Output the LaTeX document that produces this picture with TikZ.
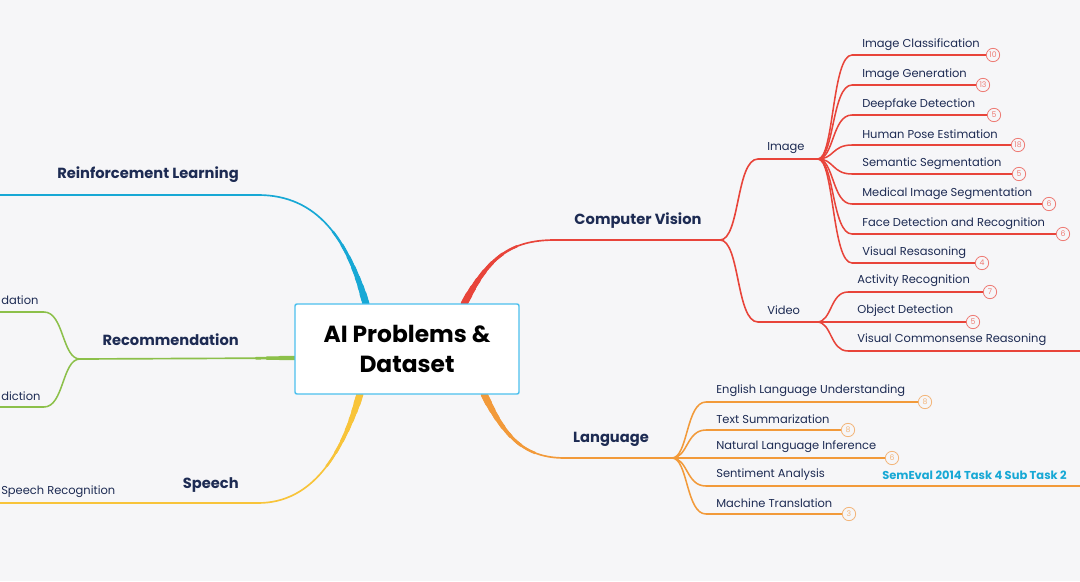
\documentclass[tikz,border=0pt]{standalone}
\usepackage{fontspec}
\setmainfont{Poppins}
\definecolor{bg}{HTML}{F6F6F8}
\definecolor{navy}{HTML}{1D2B53}
\definecolor{cyanb}{HTML}{17A8D5}
\definecolor{greenb}{HTML}{8CC04A}
\definecolor{yellowb}{HTML}{F8C43A}
\definecolor{redb}{HTML}{E8443A}
\definecolor{orangeb}{HTML}{F29A3A}
\definecolor{redl}{HTML}{EE7B74}
\definecolor{orangel}{HTML}{F3B57A}
\definecolor{boxblue}{HTML}{4CC0EE}
\newcommand\taperpath[3]{%
  \foreach \w/\l in #3{%
    \draw[#1,line width=\w,line cap=round,dash pattern=on \l off 3000pt] #2;}%
  \draw[#1,line width=1.25pt] #2;}
\newcommand\bigtaper{5.2pt/8pt,4.6pt/14pt,4pt/21pt,3.4pt/29pt,2.8pt/38pt,2.3pt/48pt,1.8pt/60pt}
\newcommand\smalltaper{3.2pt/12pt,2.6pt/22pt,2pt/30pt}
\tikzset{
  childtext/.style={font=\fontsize{8.6}{10}\selectfont, text=navy, anchor=west, inner sep=0pt},
  branchtext/.style={font=\bfseries\fontsize{11}{13}\selectfont, text=navy, inner sep=0pt},
  badge/.style={circle, draw=#1, line width=0.6pt, text=#1, font=\fontsize{5.8}{6}\selectfont,
    minimum size=10pt, inner sep=0pt, fill=bg},
  childline/.style={draw=#1, line width=1.15pt},
  centerbox/.style={draw=boxblue, line width=1.1pt, fill=white, rounded corners=1.5pt,
    minimum width=168pt, minimum height=67.5pt, align=center, text=black,
    font=\bfseries\fontsize{17.5}{23}\selectfont}
}
\begin{document}
\begin{tikzpicture}[x=0.75pt,y=-0.75pt]
\useasboundingbox (0,0) rectangle (1080,581);
\fill[bg] (0,0) rectangle (1080,581);
\begin{scope}
\clip (0,0) rectangle (1080,581);

% coordinates
\coordinate (rlS) at (366,304);
\coordinate (rlE) at (0,195);
\coordinate (recS) at (296,358);
\coordinate (recH) at (80,359);
\coordinate (recA) at (0,312);
\coordinate (recB) at (0,407);
\coordinate (spS) at (360,394);
\coordinate (spE) at (0,503);
\coordinate (cvS) at (464,304);
\coordinate (cvH) at (720,240);
\coordinate (imgH) at (818,159);
\coordinate (vidH) at (817,322);
\coordinate (lgS) at (484,394);
\coordinate (lgH) at (672,458);
\coordinate (vcrE) at (1080,351);
\coordinate (saE) at (1080,486);

% main branches
\taperpath{cyanb}{(rlS) .. controls (348,240) and (318,195) .. (258,195) -- (rlE)}{\bigtaper}
\taperpath{greenb}{(recS) -- (recH)}{\smalltaper}
\taperpath{yellowb}{(spS) .. controls (342,455) and (312,503) .. (258,503) -- (spE)}{\bigtaper}
\taperpath{redb}{(cvS) .. controls (488,258) and (510,240) .. (555,240) -- (cvH)}{\bigtaper}
\taperpath{orangeb}{(lgS) .. controls (505,438) and (525,458) .. (565,458) -- (lgH)}{\bigtaper}

% recommendation children
\draw[childline=greenb] (recH) .. controls (62,359) and (64,312) .. (44,312) -- (recA);
\draw[childline=greenb] (recH) .. controls (62,359) and (64,407) .. (44,407) -- (recB);

% CV sub branches
\draw[childline=redb, line width=1.2pt] (cvH) .. controls (740,240) and (736,159) .. (758,159) -- (imgH);
\draw[childline=redb, line width=1.2pt] (cvH) .. controls (740,240) and (736,322) .. (758,322) -- (vidH);

% labels of main branches
\node[branchtext, anchor=east] (rl) at (239,175) {Reinforcement Learning};
\node[branchtext, anchor=east] (rec) at (239,340) {Recommendation};
\node[branchtext, anchor=east] (sp) at (239,485) {Speech};
\node[branchtext] (cv) at (638,221) {Computer Vision};
\node[branchtext] (lg) at (611,439) {Language};
\node[childtext] (img) at (767,148) {Image};
\node[childtext] (vid) at (767,310) {Video};

\node[childtext] (recT1) at (1,300) {dation};
\node[childtext] (recT2) at (1,396) {diction};
\node[childtext] (spT) at (1,492) {Speech Recognition};

% image children
\foreach \i/\y/\bx/\n/\t in {
  1/55/993/10/Image Classification,
  2/85/983/13/Image Generation,
  3/115/994/5/Deepfake Detection,
  4/145/1018/18/Human Pose Estimation,
  5/174/1019/5/Semantic Segmentation,
  6/204/1049/6/Medical Image Segmentation,
  7/234/1063/6/Face Detection and Recognition,
  8/263/982/4/Visual Resasoning}{
  \node[badge=redl] (ib\i) at (\bx,\y) {\n};
  \draw[childline=redb] (imgH) .. controls (834,159) and (832,\y) .. (852,\y) -- (ib\i.west);
  \node[childtext] (it\i) at (862,\y-10.5) {\t};
}

% video children
\node[badge=redl] (vb1) at (990,292) {7};
\node[badge=redl] (vb2) at (973,322) {5};
\draw[childline=redb] (vidH) .. controls (832,322) and (830,292) .. (848,292) -- (vb1.west);
\draw[childline=redb] (vidH) -- (vb2.west);
\draw[childline=redb] (vidH) .. controls (832,322) and (830,351) .. (848,351) -- (vcrE);
\node[childtext] (vt1) at (857,281) {Activity Recognition};
\node[childtext] (vt2) at (857,311) {Object Detection};
\node[childtext] (vt3) at (857,340) {Visual Commonsense Reasoning};

% language children
\foreach \i/\y/\bx/\n/\t in {
  1/402/925/8/English Language Understanding,
  2/430/848/8/Text Summarization,
  3/458/892/6/Natural Language Inference,
  5/514/849/3/Machine Translation}{
  \node[badge=orangel] (lb\i) at (\bx,\y) {\n};
  \draw[childline=orangeb] (lgH) .. controls (688,458) and (686,\y) .. (706,\y) -- (lb\i.west);
  \node[childtext] (lt\i) at (716,\y-11) {\t};
}
\draw[childline=orangeb] (lgH) .. controls (688,458) and (686,486) .. (706,486) -- (saE);
\node[childtext] (lt4) at (716,475) {Sentiment Analysis};
\node[childtext, text=cyanb, font=\bfseries\fontsize{8.6}{10}\selectfont] (sem) at (882,475) {SemEval 2014 Task 4 Sub Task 2};

% center
\node[centerbox] (root) at (407,349) {AI Problems \&\\Dataset};
\end{scope}
\end{tikzpicture}
\end{document}
